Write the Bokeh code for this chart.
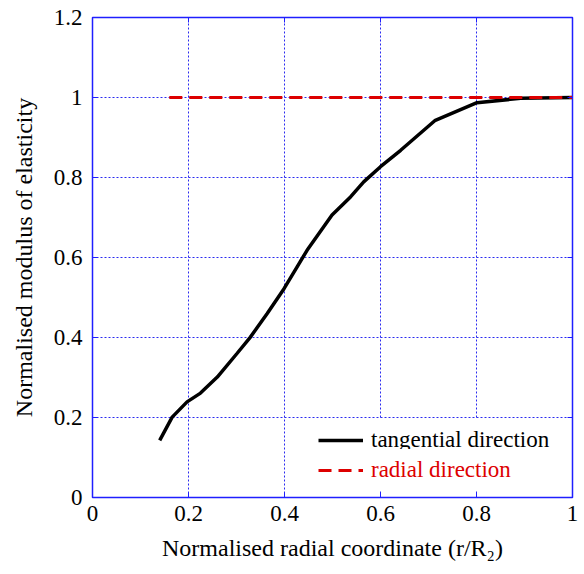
from bokeh.plotting import figure
from bokeh.models import Range1d, FixedTicker, LinearAxis, Legend, LegendItem
from bokeh.embed import file_html
from bokeh.resources import INLINE

# ---- data ----
r_tan = [0.140, 0.166, 0.197, 0.225, 0.260, 0.301, 0.329, 0.364, 0.399, 0.426,
         0.447, 0.499, 0.538, 0.565, 0.600, 0.642, 0.713, 0.801, 0.892, 1.000]
e_tan = [0.143, 0.201, 0.239, 0.261, 0.301, 0.360, 0.401, 0.460, 0.522, 0.576,
         0.618, 0.706, 0.752, 0.789, 0.827, 0.868, 0.942, 0.987, 0.998, 1.000]
r_rad = [0.16, 1.0]
e_rad = [1.0, 1.0]

x_ticks = [0, 0.2, 0.4, 0.6, 0.8, 1]
x_tick_labels = ["0", "0.2", "0.4", "0.6", "0.8", "1"]
y_ticks = [0, 0.2, 0.4, 0.6, 0.8, 1, 1.2]
y_tick_labels = ["0", "0.2", "0.4", "0.6", "0.8", "1", "1.2"]

label_tan = "tangential direction"
label_rad = "radial direction"
y_title = "Normalised modulus of elasticity"
x_title = "Normalised radial coordinate (r/R\u2082)"

FONT = "Liberation Serif"
FS = 23
FS_TITLE = 24
BLUE = "#1f1fff"
GRID = "#2a2af0"
RED = "#dd0000"

L, R, T, B = 92, 12, 17, 77
W, H = 584, 574

p = figure(width=W, height=H, x_range=Range1d(0, 1), y_range=Range1d(0, 1.2),
           output_backend="svg", toolbar_location=None,
           min_border_left=L, min_border_right=R, min_border_top=T, min_border_bottom=B)
p.background_fill_color = "white"
p.border_fill_color = "white"
p.outline_line_color = BLUE
p.outline_line_width = 1.5

# axes
for ax, ticks, labels in ((p.xaxis[0], x_ticks, x_tick_labels), (p.yaxis[0], y_ticks, y_tick_labels)):
    ax.ticker = FixedTicker(ticks=ticks)
    ax.major_label_overrides = {t: s for t, s in zip(ticks, labels)}
    ax.major_tick_in = 5
    ax.major_tick_out = 0
    ax.minor_tick_in = 0
    ax.minor_tick_out = 0
    ax.axis_line_color = BLUE
    ax.major_tick_line_color = BLUE
    ax.major_label_text_font = FONT
    ax.major_label_text_font_size = f"{FS}px"
    ax.major_label_text_color = "black"
    ax.axis_label_text_font = FONT
    ax.axis_label_text_font_size = f"{FS_TITLE}px"
    ax.axis_label_text_font_style = "normal"
    ax.axis_label_text_color = "black"

p.xaxis.major_label_standoff = 8
p.yaxis.major_label_standoff = 10
p.yaxis.axis_label = y_title
p.yaxis.axis_label_standoff = 14
p.xaxis.axis_label = x_title
p.xaxis.axis_label_standoff = 11

# mirror ticks (no labels)
for loc, ticks in (("above", x_ticks), ("right", y_ticks)):
    ax = LinearAxis(ticker=FixedTicker(ticks=ticks), major_label_text_font_size="0px",
                    major_label_standoff=0, major_tick_in=5, major_tick_out=0,
                    minor_tick_in=0, minor_tick_out=0, axis_line_color=BLUE,
                    major_tick_line_color=BLUE)
    ax.major_label_overrides = {t: "" for t in ticks}
    p.add_layout(ax, loc)

# grid
for g in (p.xgrid[0], p.ygrid[0]):
    g.grid_line_color = GRID
    g.grid_line_dash = "2 2"
    g.grid_line_width = 1

# lines
r1 = p.line(r_tan, e_tan, line_width=3.5, line_color="black")
r2 = p.line(r_rad, e_rad, line_width=3, line_color=RED, line_dash="13 7")

# legends (two, for two label colours)
leg_common = dict(margin=0, glyph_width=45, glyph_height=30, label_height=30,
                  label_standoff=8, label_text_font=FONT, label_text_font_size=f"{FS}px",
                  border_line_alpha=0, background_fill_color="white",
                  background_fill_alpha=1)
leg1 = Legend(items=[LegendItem(label=label_tan, renderers=[r1])], location=(220, 36),
              padding=6, label_text_color="black", **leg_common)
leg2 = Legend(items=[LegendItem(label=label_rad, renderers=[r2])], location=(220, 6),
              padding=6, label_text_color=RED, **leg_common)
p.add_layout(leg1)
p.add_layout(leg2)

open("out.html", "w").write(file_html(p, INLINE))
